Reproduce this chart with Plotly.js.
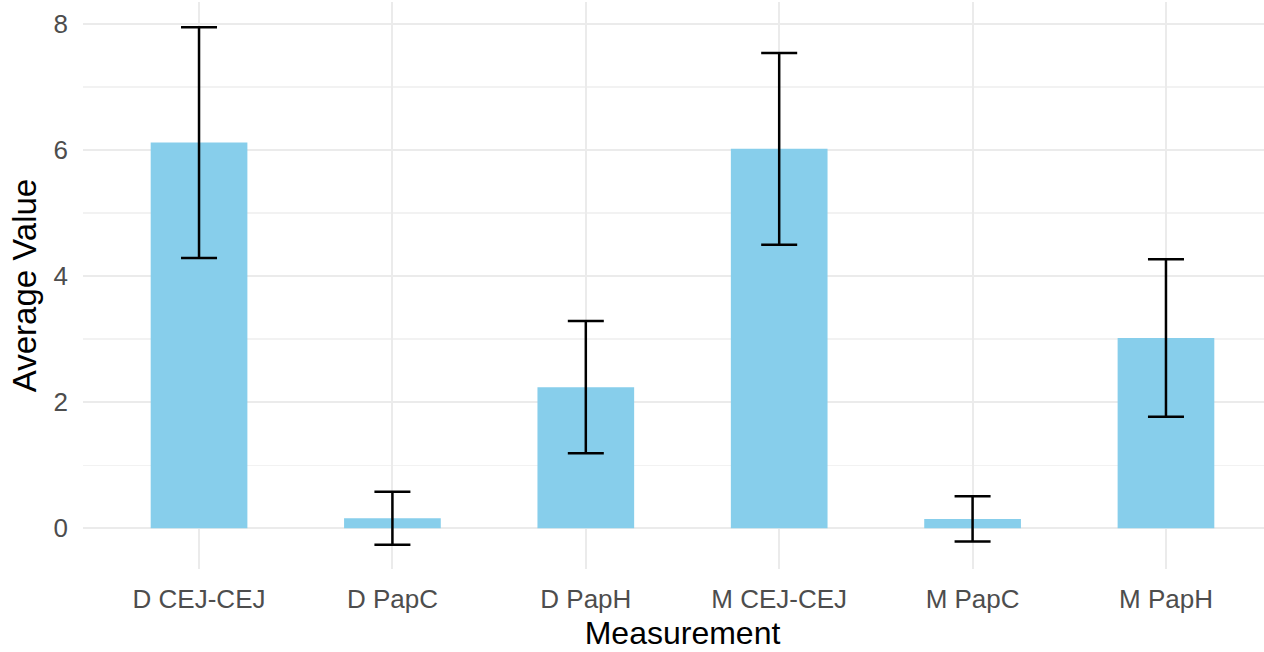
<!DOCTYPE html>
<html>
<head>
<meta charset="utf-8">
<script src="https://cdn.plot.ly/plotly-3.0.1.min.js"></script>
<style>html,body{margin:0;padding:0;background:#fff;overflow:hidden;width:1264px;height:652px;}#chart{width:1284px;height:652px;}</style>
</head>
<body>
<div id="chart"></div>
<script>
const categories = ["D CEJ-CEJ", "D PapC", "D PapH", "M CEJ-CEJ", "M PapC", "M PapH"];
const averages = [6.12, 0.16, 2.24, 6.02, 0.15, 3.02];
const errors = [1.83, 0.42, 1.05, 1.52, 0.36, 1.25];
const yTicks = [0, 2, 4, 6, 8];

const trace = {
  type: "bar",
  x: categories,
  y: averages,
  width: 0.5,
  marker: {color: "#87CEEB", line: {width: 0}},
  error_y: {type: "data", array: errors, visible: true, color: "#000000", thickness: 2.5, width: 18},
  hoverinfo: "x+y"
};

const layout = {
  width: 1284, height: 652,
  margin: {l: 83, r: 2, t: 2, b: 83},
  paper_bgcolor: "#ffffff", plot_bgcolor: "#ffffff",
  font: {family: "Liberation Sans, Arial, sans-serif"},
  showlegend: false,
  bargap: 0.5,
  xaxis: {
    type: "category",
    range: [-0.6, 5.6],
    showgrid: true, gridcolor: "#EBEBEB", gridwidth: 2,
    zeroline: false, showline: false, ticks: "",
    tickfont: {size: 26, color: "#4D4D4D"},
    ticklabelstandoff: 12,
    title: {text: "Measurement", font: {size: 32, color: "#000000"}, standoff: 8}
  },
  yaxis: {
    range: [-0.645, 8.35],
    tickvals: yTicks,
    ticktext: yTicks.map(String),
    showgrid: true, gridcolor: "#EBEBEB", gridwidth: 2,
    minor: {dtick: 1, tick0: 0, showgrid: true, gridcolor: "#F2F2F2", gridwidth: 1.5},
    zeroline: false, showline: false, ticks: "",
    tickfont: {size: 26, color: "#4D4D4D"},
    ticklabelstandoff: 14,
    title: {text: "Average Value", font: {size: 33, color: "#000000"}, standoff: 6}
  }
};

Plotly.newPlot("chart", [trace], layout, {displayModeBar: false, staticPlot: true});
</script>
</body>
</html>
